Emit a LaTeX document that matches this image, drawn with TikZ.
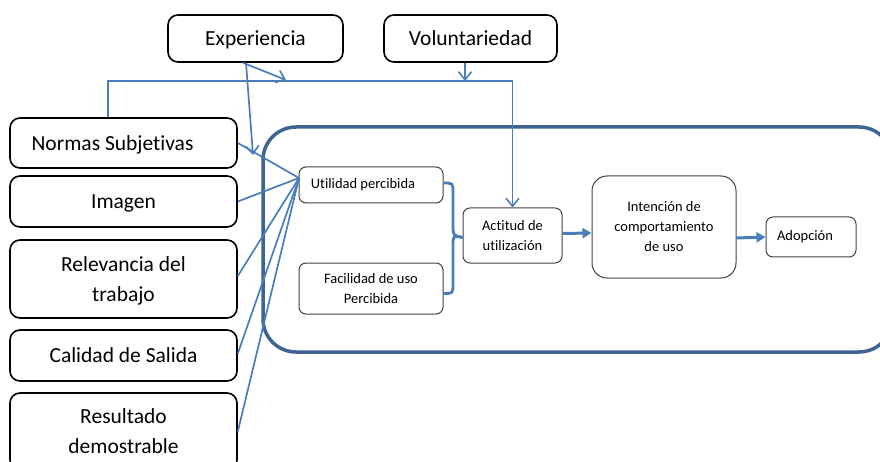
\documentclass[tikz,border=0pt]{standalone}
\usepackage{fontspec}
\setmainfont[Ligatures=NoCommon]{Carlito}
\usetikzlibrary{arrows.meta,calc}
\definecolor{lineblue}{RGB}{74,126,187}
\definecolor{frameblue}{RGB}{62,100,148}
\definecolor{boxgray}{RGB}{64,64,64}
\tikzset{
  outerbox/.style={draw=black, line width=1.6pt, rounded corners=10pt, align=center,
    font=\fontsize{21.5}{30}\selectfont, inner sep=0pt, text depth=0pt},
  innerbox/.style={draw=boxgray, line width=1pt, rounded corners=7pt, align=center,
    font=\fontsize{14.5}{20}\selectfont, inner sep=0pt},
  thinline/.style={draw=lineblue, line width=1.7pt},
  vtip/.style={-{Straight Barb[length=8pt,width=13pt,line width=1.6pt]}},
  thickarrow/.style={draw=lineblue, line width=3pt, -{Triangle[length=9pt,width=10pt]}},
  brace/.style={draw=lineblue, line width=2.8pt},
}
\begin{document}
\begin{tikzpicture}[x=1pt,y=-1pt]
\useasboundingbox (0,0) rectangle (880,462);
% big frame
\draw[draw=frameblue, line width=3.5pt, rounded corners=33pt] (263,127) rectangle (892,352);
% top boxes
\node[outerbox, minimum width=175pt, minimum height=47pt] (exp) at (255.5,38.5) {Experiencia};
\node[outerbox, minimum width=173pt, minimum height=47pt] (vol) at (470.5,38.5) {Voluntariedad};
% left boxes
\node[outerbox, minimum width=227pt, minimum height=50pt] (norm) at (123.5,143) {\hspace*{-22pt}Normas Subjetivas};
\node[outerbox, minimum width=227pt, minimum height=51pt] (img) at (123.5,201.5) {Imagen};
\node[outerbox, minimum width=227pt, minimum height=78pt] (rel) at (123.5,279) {Relevancia del\\trabajo};
\node[outerbox, minimum width=227pt, minimum height=51pt] (cal) at (123.5,355.5) {Calidad de Salida};
\node[outerbox, minimum width=227pt, minimum height=77pt] (res) at (123.5,431.5) {Resultado\\demostrable};
% inner boxes
\node[innerbox, minimum width=144pt, minimum height=36pt] (util) at (371,185) {\hspace*{-16pt}Utilidad percibida};
\node[innerbox, minimum width=144pt, minimum height=51pt] (fac) at (371,288.5) {Facilidad de uso\\Percibida};
\node[innerbox, minimum width=99pt, minimum height=55pt] (act) at (512.5,235.5) {Actitud de\\utilización};
\node[innerbox, minimum width=144pt, minimum height=102pt, rounded corners=15pt] (int) at (664,227) {Intención de\\comportamiento\\de uso};
\node[innerbox, minimum width=90pt, minimum height=40pt] (adop) at (811,237) {\hspace*{-12pt}Adopción};
% coordinates
\coordinate (j1) at (108,81);
\coordinate (j2) at (512.5,81);
\coordinate (v1) at (465,81);
\coordinate (e0) at (243,62);
\coordinate (e1) at (286,80);
\coordinate (e2) at (246,62);
\coordinate (e3) at (253,155);
\coordinate (uc) at (299,178);
\coordinate (bx) at (453,0);
% top connector loop
\draw[thinline, vtip] (norm.north -| j1) -- (j1) -- (j2) -- (act.north);
\draw[thinline, vtip] (vol.south -| v1) -- (v1);
\draw[thinline, vtip] (exp.south -| e0) -- (e1);
\draw[thinline, vtip] (exp.south -| e2) -- (e3);
% converging lines
\draw[thinline] (norm.east) -- (uc);
\draw[thinline] (img.east) -- (uc);
\draw[thinline] ($(rel.east)+(0,-3)$) -- (uc);
\draw[thinline] ($(cal.east)+(0,-2)$) -- (uc);
\draw[thinline] (res.east) -- (uc);
% brace
\draw[brace] ($(util.east)+(0,-2)$) .. controls ($(util.east -| bx)+(0,-2)$) .. ($(util.east -| bx)+(0,8)$)
  -- ($(act.west -| bx)+(0,-10)$) .. controls (act.west -| bx) .. ($(act.west)+(0,2)$);
\draw[brace] ($(act.west)+(0,2)$) .. controls (act.west -| bx) .. ($(act.west -| bx)+(0,10)$)
  -- ($(fac.east -| bx)+(0,-5)$) .. controls ($(fac.east -| bx)+(0,5)$) .. ($(fac.east)+(0,5)$);
% thick arrows
\draw[thickarrow] ($(act.east)+(0,-2)$) -- ($(int.west)+(0,6)$);
\draw[thickarrow] ($(int.east)+(0,11)$) -- (adop.west);
\end{tikzpicture}
\end{document}
